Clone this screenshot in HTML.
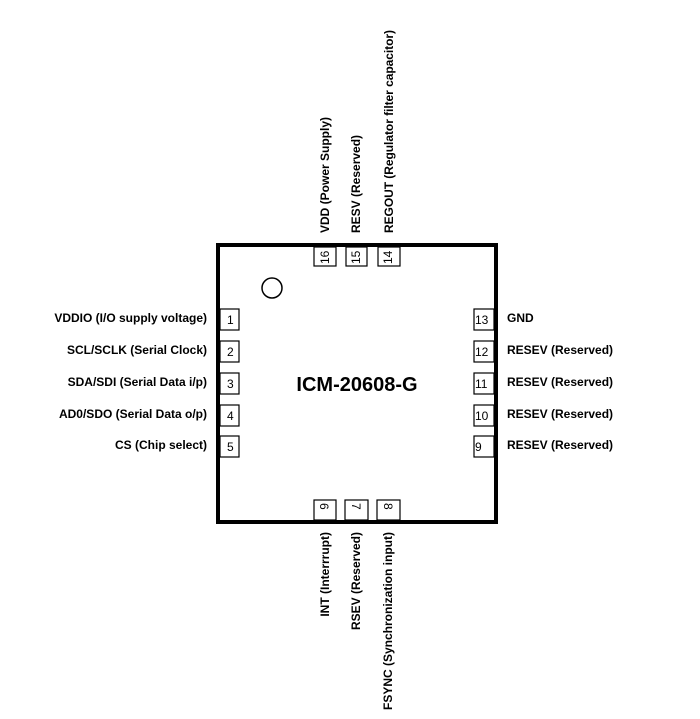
<!DOCTYPE html>
<html><head><meta charset="utf-8"><style>
html,body{margin:0;padding:0;background:#fff;}
svg{display:block;}
text{font-family:"Liberation Sans",Arial,sans-serif;fill:#000;}
.l{font-size:12px;font-weight:bold;}
.n{font-size:12px;}
</style></head><body>
<svg width="700" height="719" viewBox="0 0 700 719" xmlns="http://www.w3.org/2000/svg">
<rect x="218" y="245" width="278" height="277" fill="none" stroke="#000" stroke-width="4"/>
<circle cx="272" cy="288" r="10" fill="none" stroke="#000" stroke-width="1.5"/>
<text x="357" y="391" text-anchor="middle" style="font-size:20px;font-weight:bold;">ICM-20608-G</text>
<g fill="none" stroke="#000" stroke-width="1.2">
<rect x="220" y="309" width="19" height="21"/>
<rect x="220" y="341" width="19" height="21"/>
<rect x="220" y="373" width="19" height="21"/>
<rect x="220" y="405" width="19" height="21"/>
<rect x="220" y="436" width="19" height="21"/>
<rect x="474" y="309" width="20" height="21"/>
<rect x="474" y="341" width="20" height="21"/>
<rect x="474" y="373" width="20" height="21"/>
<rect x="474" y="405" width="20" height="21"/>
<rect x="474" y="436" width="20" height="21"/>
<rect x="314" y="247" width="22" height="19"/>
<rect x="346" y="247" width="21" height="19"/>
<rect x="378" y="247" width="22" height="19"/>
<rect x="314" y="500" width="22" height="20"/>
<rect x="345" y="500" width="23" height="20"/>
<rect x="377" y="500" width="23" height="20"/>
</g>
<g class="n">
<text x="227" y="324">1</text><text x="227" y="356">2</text><text x="227" y="388">3</text><text x="227" y="420">4</text><text x="227" y="451">5</text>
<text x="475" y="324">13</text><text x="475" y="356">12</text><text x="475" y="388">11</text><text x="475" y="420">10</text><text x="475" y="451">9</text>
<text transform="translate(329,264) rotate(-90)">16</text>
<text transform="translate(360,264) rotate(-90)">15</text>
<text transform="translate(392,264) rotate(-90)">14</text>
<text transform="translate(320,503) rotate(90)">6</text>
<text transform="translate(352,503) rotate(90)">7</text>
<text transform="translate(384,503) rotate(90)">8</text>
</g>
<g class="l" text-anchor="end">
<text x="207" y="322">VDDIO (I/O supply voltage)</text>
<text x="207" y="354">SCL/SCLK (Serial Clock)</text>
<text x="207" y="386">SDA/SDI (Serial Data i/p)</text>
<text x="207" y="418">AD0/SDO (Serial Data o/p)</text>
<text x="207" y="449">CS (Chip select)</text>
</g>
<g class="l">
<text x="507" y="322">GND</text>
<text x="507" y="354">RESEV (Reserved)</text>
<text x="507" y="386">RESEV (Reserved)</text>
<text x="507" y="418">RESEV (Reserved)</text>
<text x="507" y="449">RESEV (Reserved)</text>
<text transform="translate(329,233) rotate(-90)">VDD (Power Supply)</text>
<text transform="translate(360,233) rotate(-90)">RESV (Reserved)</text>
<text transform="translate(393,233) rotate(-90)" textLength="203">REGOUT (Regulator filter capacitor)</text>
</g>
<g class="l" text-anchor="end">
<text transform="translate(329,532) rotate(-90)">INT (Interrrupt)</text>
<text transform="translate(360,532) rotate(-90)">RSEV (Reserved)</text>
<text transform="translate(392,532) rotate(-90)">FSYNC (Synchronization input)</text>
</g>
</svg>
</body></html>
